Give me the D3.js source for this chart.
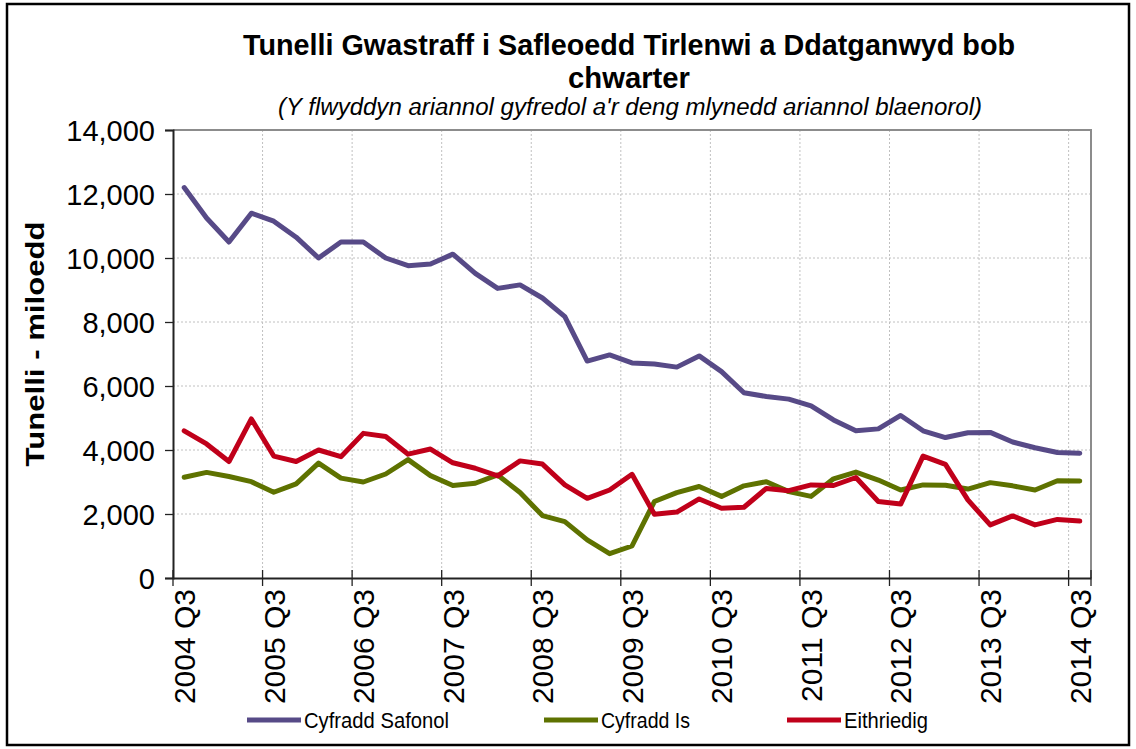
<!DOCTYPE html>
<html>
<head>
<meta charset="utf-8">
<script src="https://cdn.jsdelivr.net/npm/d3@7"></script>
<style>
  html, body { margin: 0; padding: 0; background: #fff; }
  svg { display: block; font-family: "Liberation Sans", Arial, sans-serif; }
</style>
</head>
<body>
<svg id="chart" width="1136" height="749"></svg>
<script>
const categories = [
  "2004 Q3","2004 Q4","2005 Q1","2005 Q2","2005 Q3","2005 Q4","2006 Q1","2006 Q2",
  "2006 Q3","2006 Q4","2007 Q1","2007 Q2","2007 Q3","2007 Q4","2008 Q1","2008 Q2",
  "2008 Q3","2008 Q4","2009 Q1","2009 Q2","2009 Q3","2009 Q4","2010 Q1","2010 Q2",
  "2010 Q3","2010 Q4","2011 Q1","2011 Q2","2011 Q3","2011 Q4","2012 Q1","2012 Q2",
  "2012 Q3","2012 Q4","2013 Q1","2013 Q2","2013 Q3","2013 Q4","2014 Q1","2014 Q2",
  "2014 Q3"
];
const tickLabels = ["2004 Q3","2005 Q3","2006 Q3","2007 Q3","2008 Q3","2009 Q3",
  "2010 Q3","2011 Q3","2012 Q3","2013 Q3","2014 Q3"];
const yTicks = [0, 2000, 4000, 6000, 8000, 10000, 12000, 14000];

const seriesNames = ["Cyfradd Safonol", "Cyfradd Is", "Eithriedig"];
const seriesColors = ["#574a87", "#5e7200", "#c0001a"];

const safonol = [12200, 11250, 10500, 11400, 11150, 10650, 10000, 10500, 10500, 10000,
  9760, 9810, 10120, 9520, 9050, 9160, 8750, 8170, 6780, 6970,
  6720, 6690, 6590, 6940, 6450, 5790, 5670, 5590, 5380, 4940,
  4600, 4660, 5080, 4600, 4390, 4540, 4550, 4250, 4070, 3920, 3900];
const cyfraddIs = [3150, 3300, 3170, 3010, 2680, 2940, 3590, 3120, 3000, 3250,
  3700, 3200, 2890, 2960, 3220, 2670, 1950, 1760, 1190, 760,
  1000, 2390, 2670, 2860, 2550, 2880, 3010, 2700, 2550, 3100,
  3310, 3060, 2750, 2910, 2900, 2780, 2980, 2880, 2750, 3040, 3030];
const eithriedig = [4600, 4190, 3640, 4970, 3810, 3640, 4000, 3790, 4520, 4420,
  3870, 4030, 3600, 3430, 3190, 3660, 3560, 2910, 2490, 2750,
  3240, 1990, 2060, 2470, 2180, 2210, 2800, 2730, 2910, 2890,
  3140, 2390, 2310, 3810, 3550, 2440, 1660, 1940, 1660, 1830, 1780];

const titleLine1 = "Tunelli Gwastraff i Safleoedd Tirlenwi a Ddatganwyd bob";
const titleLine2 = "chwarter";
const subtitle = "(Y flwyddyn ariannol gyfredol a'r deng mlynedd ariannol blaenorol)";
const yTitle = "Tunelli - miloedd";

const seriesData = [safonol, cyfraddIs, eithriedig];

const svg = d3.select("#chart");
const L = 173, R = 1091, T = 130, B = 578;

// outer border
svg.append("rect").attr("x", 7).attr("y", 4).attr("width", 1122).attr("height", 741)
  .attr("fill", "#fff").attr("stroke", "#000").attr("stroke-width", 2.5);

const x = d3.scaleBand().domain(categories).range([L, R]).padding(0);
const y = d3.scaleLinear().domain([0, 14000]).range([B, T]);
const cx = d => x(d) + x.bandwidth() / 2;

// gridlines horizontal
svg.append("g").selectAll("line").data(yTicks.filter(v => v > 0)).join("line")
  .attr("x1", L).attr("x2", R).attr("y1", d => y(d)).attr("y2", d => y(d))
  .attr("stroke", "#c0c0c0").attr("stroke-width", 1).attr("stroke-dasharray", "2,2");
// gridlines vertical (at category boundaries every 4 quarters)
const bIdx = d3.range(4, categories.length, 4);
svg.append("g").selectAll("line").data(bIdx).join("line")
  .attr("x1", i => x(categories[i])).attr("x2", i => x(categories[i]))
  .attr("y1", T).attr("y2", B)
  .attr("stroke", "#c0c0c0").attr("stroke-width", 1).attr("stroke-dasharray", "2,2");

// plot border top/right
svg.append("path").attr("d", `M${L},${T}H${R}V${B}`).attr("fill", "none")
  .attr("stroke", "#8c8c8c").attr("stroke-width", 2);

// y axis
const yAxis = svg.append("g").attr("transform", `translate(${L},0)`)
  .call(d3.axisLeft(y).tickValues(yTicks).tickFormat(d3.format(",")).tickSize(8).tickPadding(10));
yAxis.select(".domain").attr("stroke", "#222").attr("stroke-width", 2);
yAxis.selectAll(".tick line").attr("stroke", "#222").attr("stroke-width", 1.3);
yAxis.selectAll("text").attr("font-size", 29).attr("fill", "#000")
  .attr("font-family", "Liberation Sans, Arial, sans-serif").attr("dy", "0.36em");

// x axis
const xAxis = svg.append("g").attr("transform", `translate(0,${B})`)
  .call(d3.axisBottom(x).tickValues(tickLabels).tickSize(0).tickPadding(0));
xAxis.select(".domain").attr("stroke", "#222").attr("stroke-width", 2);
xAxis.selectAll(".tick text")
  .attr("font-size", 30).attr("fill", "#000")
  .attr("font-family", "Liberation Sans, Arial, sans-serif")
  .attr("text-anchor", "end")
  .attr("transform", "rotate(-90)")
  .attr("x", -11).attr("y", 0).attr("dy", "0.36em");
// x tick marks at boundaries
const tIdx = d3.range(0, categories.length + 1, 4).concat([categories.length]);
svg.append("g").selectAll("line").data(tIdx).join("line")
  .attr("x1", i => i < categories.length ? x(categories[i]) : R)
  .attr("x2", i => i < categories.length ? x(categories[i]) : R)
  .attr("y1", B - 8).attr("y2", B + 8)
  .attr("stroke", "#222").attr("stroke-width", 1.3);

// lines
const line = d3.line().x((d, i) => cx(categories[i])).y(d => y(d));
svg.append("g").selectAll("path").data(seriesData).join("path")
  .attr("d", d => line(d)).attr("fill", "none")
  .attr("stroke", (d, i) => seriesColors[i]).attr("stroke-width", 5)
  .attr("stroke-linejoin", "round").attr("stroke-linecap", "round");

// titles
svg.append("text").attr("x", 629).attr("y", 55).attr("text-anchor", "middle")
  .attr("font-size", 29).attr("font-weight", "bold")
  .attr("textLength", 772).attr("lengthAdjust", "spacingAndGlyphs").text(titleLine1);
svg.append("text").attr("x", 629).attr("y", 88).attr("text-anchor", "middle")
  .attr("font-size", 29).attr("font-weight", "bold")
  .attr("textLength", 122).attr("lengthAdjust", "spacingAndGlyphs").text(titleLine2);
svg.append("text").attr("x", 630).attr("y", 115).attr("text-anchor", "middle")
  .attr("font-size", 23).attr("font-style", "italic")
  .attr("textLength", 704).attr("lengthAdjust", "spacingAndGlyphs").text(subtitle);

// y title
svg.append("text").attr("transform", "translate(44,344) rotate(-90)")
  .attr("text-anchor", "middle").attr("font-size", 25).attr("font-weight", "bold")
  .attr("textLength", 245).attr("lengthAdjust", "spacingAndGlyphs").text(yTitle);

// legend
const legX = [247, 544, 787];
const legW = [145, 89, 84];
const leg = svg.append("g").selectAll("g").data(seriesNames).join("g")
  .attr("transform", (d, i) => `translate(${legX[i]},720)`);
leg.append("line").attr("x1", 0).attr("x2", 54).attr("y1", 0).attr("y2", 0)
  .attr("stroke", (d, i) => seriesColors[i]).attr("stroke-width", 5);
leg.append("text").attr("x", 57).attr("y", 0).attr("dy", "0.35em")
  .attr("font-size", 22).attr("textLength", (d, i) => legW[i])
  .attr("lengthAdjust", "spacingAndGlyphs").text(d => d);
</script>
</body>
</html>
